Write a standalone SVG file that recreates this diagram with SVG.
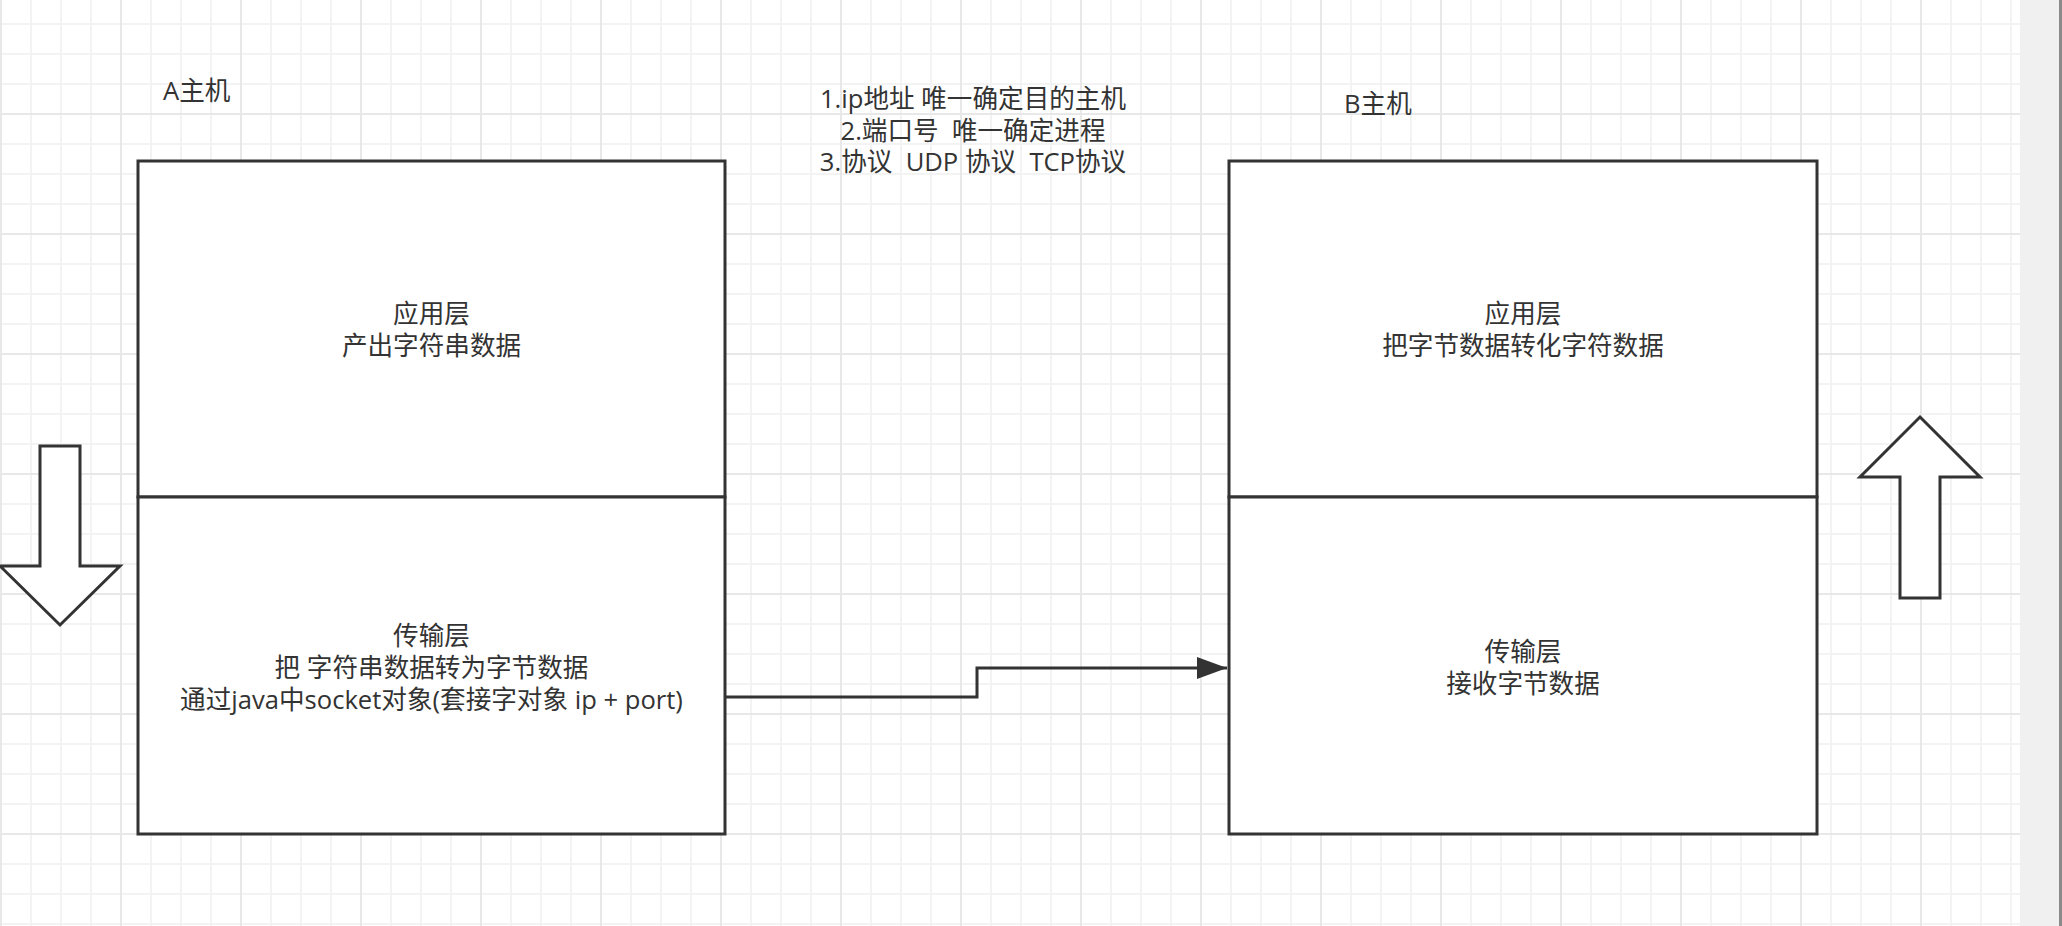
<svg xmlns="http://www.w3.org/2000/svg" width="2062" height="926" viewBox="0 0 2062 926">
  <style>
    .t { font-family: "Open Sans", "Noto Sans CJK SC", sans-serif; font-size: 25.6px; fill: #333333; white-space: pre; }
    .c { text-anchor: middle; }
    .box { fill: #ffffff; stroke: #333333; stroke-width: 3; }
    .big { fill: #ffffff; stroke: #333333; stroke-width: 3; stroke-linejoin: miter; }
    .edge { fill: none; stroke: #333333; stroke-width: 3; }
  </style>
  <defs>
    <pattern id="grid" patternUnits="userSpaceOnUse" x="0" y="-7" width="120" height="120">
      <rect x="0" y="30" width="120" height="2" fill="#f3f3f3"/>
      <rect x="0" y="60" width="120" height="2" fill="#f3f3f3"/>
      <rect x="0" y="90" width="120" height="2" fill="#f3f3f3"/>
      <rect x="30" y="0" width="2" height="120" fill="#f3f3f3"/>
      <rect x="60" y="0" width="2" height="120" fill="#f3f3f3"/>
      <rect x="90" y="0" width="2" height="120" fill="#f3f3f3"/>
      <rect x="0" y="0" width="120" height="2" fill="#e8e8e8"/>
      <rect x="0" y="0" width="2" height="120" fill="#e8e8e8"/>
    </pattern>
    <marker id="arrow" markerUnits="userSpaceOnUse" markerWidth="32" markerHeight="24" refX="30" refY="11" orient="auto">
      <path d="M0,0 L30,11 L0,22 Z" fill="#333333"/>
    </marker>
  </defs>

  <rect x="0" y="0" width="2062" height="926" fill="#ffffff"/>
  <rect x="0" y="0" width="2020" height="926" fill="url(#grid)"/>
  <rect x="2020" y="0" width="40" height="926" fill="#f0f0f0"/>
  <rect x="2059" y="0" width="3" height="926" fill="#8a8a8a"/>

  <g id="label-a">
    <text class="t" x="163" y="100">A主机</text>
  </g>
  <g id="label-b">
    <text class="t" x="1344" y="113">B主机</text>
  </g>
  <g id="label-center">
    <text class="t c" x="973" y="108">1.ip地址 唯一确定目的主机</text>
    <text class="t c" x="973" y="139.5">2.端口号  唯一确定进程</text>
    <text class="t c" x="973" y="171">3.协议  UDP 协议  TCP协议</text>
  </g>

  <g id="a-app">
    <rect class="box" x="138" y="161" width="587" height="336"/>
    <text class="t c" x="431.5" y="323">应用层</text>
    <text class="t c" x="431.5" y="355">产出字符串数据</text>
  </g>
  <g id="a-transport">
    <rect class="box" x="138" y="497" width="587" height="337"/>
    <text class="t c" x="431.5" y="645">传输层</text>
    <text class="t c" x="431.5" y="677">把 字符串数据转为字节数据</text>
    <text class="t c" x="431.5" y="709">通过java中socket对象(套接字对象 ip + port)</text>
  </g>
  <g id="b-app">
    <rect class="box" x="1229" y="161" width="588" height="336"/>
    <text class="t c" x="1523" y="323">应用层</text>
    <text class="t c" x="1523" y="355">把字节数据转化字符数据</text>
  </g>
  <g id="b-transport">
    <rect class="box" x="1229" y="497" width="588" height="337"/>
    <text class="t c" x="1523" y="661">传输层</text>
    <text class="t c" x="1523" y="693">接收字节数据</text>
  </g>

  <g id="arrow-down">
    <polygon class="big" points="40,446 80,446 80,566 120,566 60,625 0,566 40,566"/>
  </g>
  <g id="arrow-up">
    <polygon class="big" points="1920,417 1980,477 1940,477 1940,598 1900,598 1900,477 1860,477"/>
  </g>

  <g id="connectors">
    <polyline class="edge" points="726,697 977,697 977,668 1227,668" marker-end="url(#arrow)"/>
  </g>
</svg>
